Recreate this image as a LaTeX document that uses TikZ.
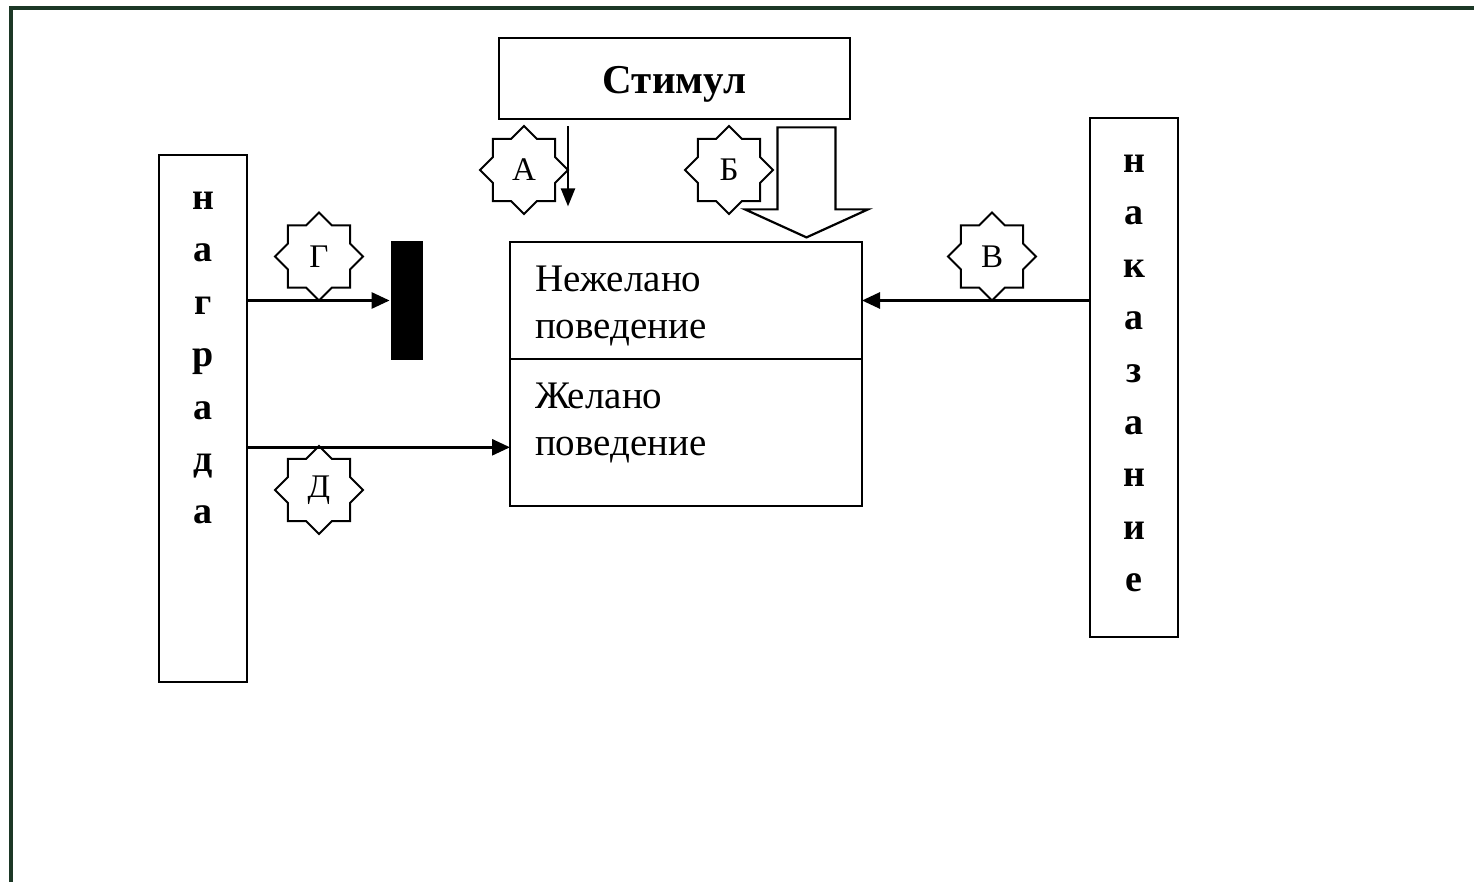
\documentclass[tikz,border=0pt]{standalone}
\usepackage{fontspec}
\setmainfont{Liberation Serif}
\usetikzlibrary{shapes.geometric,arrows.meta,positioning,calc}
\definecolor{framegreen}{RGB}{28,56,38}
\begin{document}
\begin{tikzpicture}[x=0.5pt,y=-0.5pt,line width=1.4pt]
            %
            % `box' is used for the stimulus box.
            % `part' is used for the two halves of the behaviour box.
            % `sidebox' is used for the tall boxes left and right.
            % `sideword' is used for the words written letter under letter.
            % `starmark' is used for the eight-pointed stars with letters.
            \tikzstyle{box} = [draw,inner sep=0pt]
            \tikzstyle{part} = [draw,outer sep=0pt,align=left,text width=151pt,inner xsep=12.5pt,inner ysep=0pt,font=\fontsize{19.5}{23.5}\selectfont]
            \tikzstyle{sidebox} = [draw,minimum width=44pt,inner sep=0pt]
            \tikzstyle{sideword} = [align=center,inner sep=0pt,font=\bfseries\fontsize{19}{26.2}\selectfont]
            \tikzstyle{starmark} = [draw,star,star points=8,star point ratio=1.307,minimum size=44pt,inner sep=0pt,line width=0.9pt,font=\fontsize{16.5}{16.5}\selectfont]
            \tikzstyle{arr} = [-{Triangle[length=9pt,width=8pt]}]
            \tikzstyle{thinarr} = [-{Triangle[length=9pt,width=7pt]},line width=1.1pt]
            \useasboundingbox (0,0) rectangle (1474,882);
            %
            % Frame
            \draw[line width=2pt,draw=framegreen] (11,882) -- (11,8) -- (1474,8);
            %
            % Boxes
            \node[box,minimum width=175.5pt,minimum height=40.5pt,font=\bfseries\fontsize{20.5}{24}\selectfont] (stimulus) at (674.5,78.5) {\rule{0pt}{19pt}Стимул};
            \node[part,minimum height=58.5pt] (undesired) at (686,300.5) {\rule{0pt}{18pt}Нежелано\\поведение};
            \node[part,minimum height=73.5pt,below=0pt of undesired] (desired) {Желано\\поведение\rule[-13pt]{0pt}{13pt}};
            \node[fill,minimum width=16pt,minimum height=59.5pt,inner sep=0pt] (bar) at (407,300.5) {};
            %
            % Reward and punishment
            \node[sidebox,minimum height=263.5pt] (reward) at (203,418.5) {};
            \node[sideword,anchor=north] (rewardword) at ([yshift=-18.5pt]reward.north) {н\\а\\г\\р\\а\\д\\а};
            \node[sidebox,minimum height=259.5pt] (punish) at (1134,377.5) {};
            \node[sideword,anchor=north] (punishword) at ([yshift=-18.5pt]punish.north) {н\\а\\к\\а\\з\\а\\н\\и\\е};
            %
            % Stars
            \node[starmark] (markA) at (524,170) {А};
            \node[starmark] (markB) at (729,170) {Б};
            \node[starmark] (markV) at (992,256.5) {В};
            \node[starmark] (markG) at (319,256.5) {Г};
            \node[starmark] (markD) at (319,490) {Д};
            %
            % Arrows
            \coordinate (afrom) at ([xshift=-53.25pt,yshift=-3pt]stimulus.south);
            \coordinate (ato) at ([yshift=-40pt]afrom);
            \draw[thinarr] (afrom) -- (ato);
            \coordinate (btop) at ([xshift=66pt,yshift=-3.5pt]stimulus.south);
            \draw[line width=1.1pt] (btop) ++(-29,0) -- ++(58,0) -- ++(0,82) -- ++(32.5,0)
                -- ++(-61.5,28) -- ++(-61.5,-28) -- ++(32.5,0) -- cycle;
            \draw[arr] (reward.east |- bar.west) -- (bar.west);
            \coordinate (dentry) at ([yshift=-7.4pt]desired.west);
            \draw[arr] (reward.east |- dentry) -- (dentry);
            \draw[arr] (punish.west |- undesired.east) -- (undesired.east);
\end{tikzpicture}
\end{document}
